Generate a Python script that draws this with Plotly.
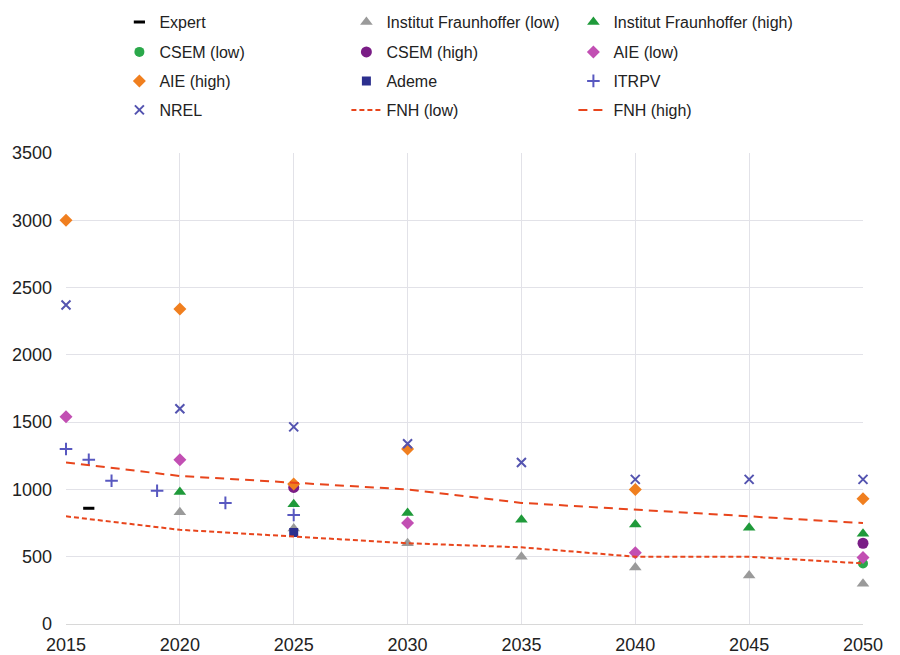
import plotly.graph_objects as go

# ---- data ----
expert_x = [2016]
expert_y = [860]
if_low_x = [2020, 2025, 2030, 2035, 2040, 2045, 2050]
if_low_y = [830, 710, 600, 500, 420, 360, 300]
if_high_x = [2020, 2025, 2030, 2035, 2040, 2045, 2050]
if_high_y = [980, 890, 825, 775, 740, 715, 670]
csem_low_x = [2050]
csem_low_y = [450]
csem_high_x = [2025, 2050]
csem_high_y = [1015, 600]
aie_low_x = [2015, 2020, 2030, 2040, 2050]
aie_low_y = [1540, 1220, 750, 530, 495]
aie_high_x = [2015, 2020, 2025, 2030, 2040, 2050]
aie_high_y = [3000, 2340, 1040, 1300, 1000, 930]
ademe_x = [2025]
ademe_y = [680]
itrpv_x = [2015, 2016, 2017, 2019, 2022, 2025]
itrpv_y = [1300, 1220, 1065, 990, 900, 810]
nrel_x = [2015, 2020, 2025, 2030, 2035, 2040, 2045, 2050]
nrel_y = [2370, 1600, 1465, 1340, 1200, 1075, 1075, 1075]
fnh_x = [2015, 2020, 2025, 2030, 2035, 2040, 2045, 2050]
fnh_low = [800, 700, 650, 600, 570, 500, 500, 450]
fnh_high = [1200, 1100, 1050, 1000, 900, 850, 800, 750]

W, H = 892, 647
fig = go.Figure()

def mk(name, x, y, symbol, color, leg, size=9, lw=0):
    fig.add_trace(go.Scatter(
        x=x, y=y, mode="markers", name=name, legend=leg, cliponaxis=False,
        marker=dict(symbol=symbol, color=color, size=size,
                    line=dict(width=lw, color=color))))

mk("Expert", expert_x, expert_y, "line-ew", "black", "legend", 8, 3)
mk("Institut Fraunhoffer (low)", if_low_x, if_low_y, "triangle-up", "#9a9a9a", "legend", 11)
mk("Institut Fraunhoffer (high)", if_high_x, if_high_y, "triangle-up", "#1f9a3a", "legend", 11)
mk("CSEM (low)", csem_low_x, csem_low_y, "circle", "#2aa84a", "legend2", 10)
mk("CSEM (high)", csem_high_x, csem_high_y, "circle", "#7a1d86", "legend2", 11)
mk("AIE (low)", aie_low_x, aie_low_y, "diamond", "#c24fb3", "legend2", 10)
mk("AIE (high)", aie_high_x, aie_high_y, "diamond", "#f07f1f", "legend3", 10)
mk("Ademe", ademe_x, ademe_y, "square", "#2c2f8e", "legend3", 9)
mk("ITRPV", itrpv_x, itrpv_y, "cross-thin", "#5858c0", "legend3", 9, 2)
mk("NREL", nrel_x, nrel_y, "x-thin", "#5454b0", "legend4", 9, 2)

fig.add_trace(go.Scatter(x=fnh_x, y=fnh_low, mode="lines", name="FNH (low)", legend="legend4",
                         line=dict(color="#e8451c", width=2, dash="5px,3px")))
fig.add_trace(go.Scatter(x=fnh_x, y=fnh_high, mode="lines", name="FNH (high)", legend="legend4",
                         line=dict(color="#e8451c", width=2, dash="9px,6px")))

def leg(ypx):
    return dict(orientation="h", x=0.067, xanchor="left",
                yref="container", y=1 - ypx / H, yanchor="middle",
                entrywidth=182, entrywidthmode="pixels",
                font=dict(size=16, color="#222"), itemsizing="trace",
                bgcolor="rgba(0,0,0,0)")

fig.update_layout(
    width=W, height=H,
    margin=dict(l=58, r=37, t=145, b=31),
    paper_bgcolor="white", plot_bgcolor="white",
    font=dict(family="Liberation Sans, Arial, sans-serif", size=16, color="#222"),
    showlegend=True,
    legend=leg(14), legend2=leg(44), legend3=leg(73), legend4=leg(102),
    xaxis=dict(range=[2015, 2050], tickvals=[2015, 2020, 2025, 2030, 2035, 2040, 2045, 2050],
               showgrid=True, gridcolor="#e2e2e8", gridwidth=1, automargin=False,
               showline=True, linecolor="#d8d8d8", zeroline=False,
               tickfont=dict(size=18), ticks="", ticklabelstandoff=4),
    yaxis=dict(range=[0, 3500], tickvals=[0, 500, 1000, 1500, 2000, 2500, 3000, 3500],
               showgrid=True, gridcolor="#e2e2e8", gridwidth=1, automargin=False,
               zeroline=False, showline=False,
               tickfont=dict(size=18), ticks="", ticklabelstandoff=13),
)

fig.write_html("out.html")
